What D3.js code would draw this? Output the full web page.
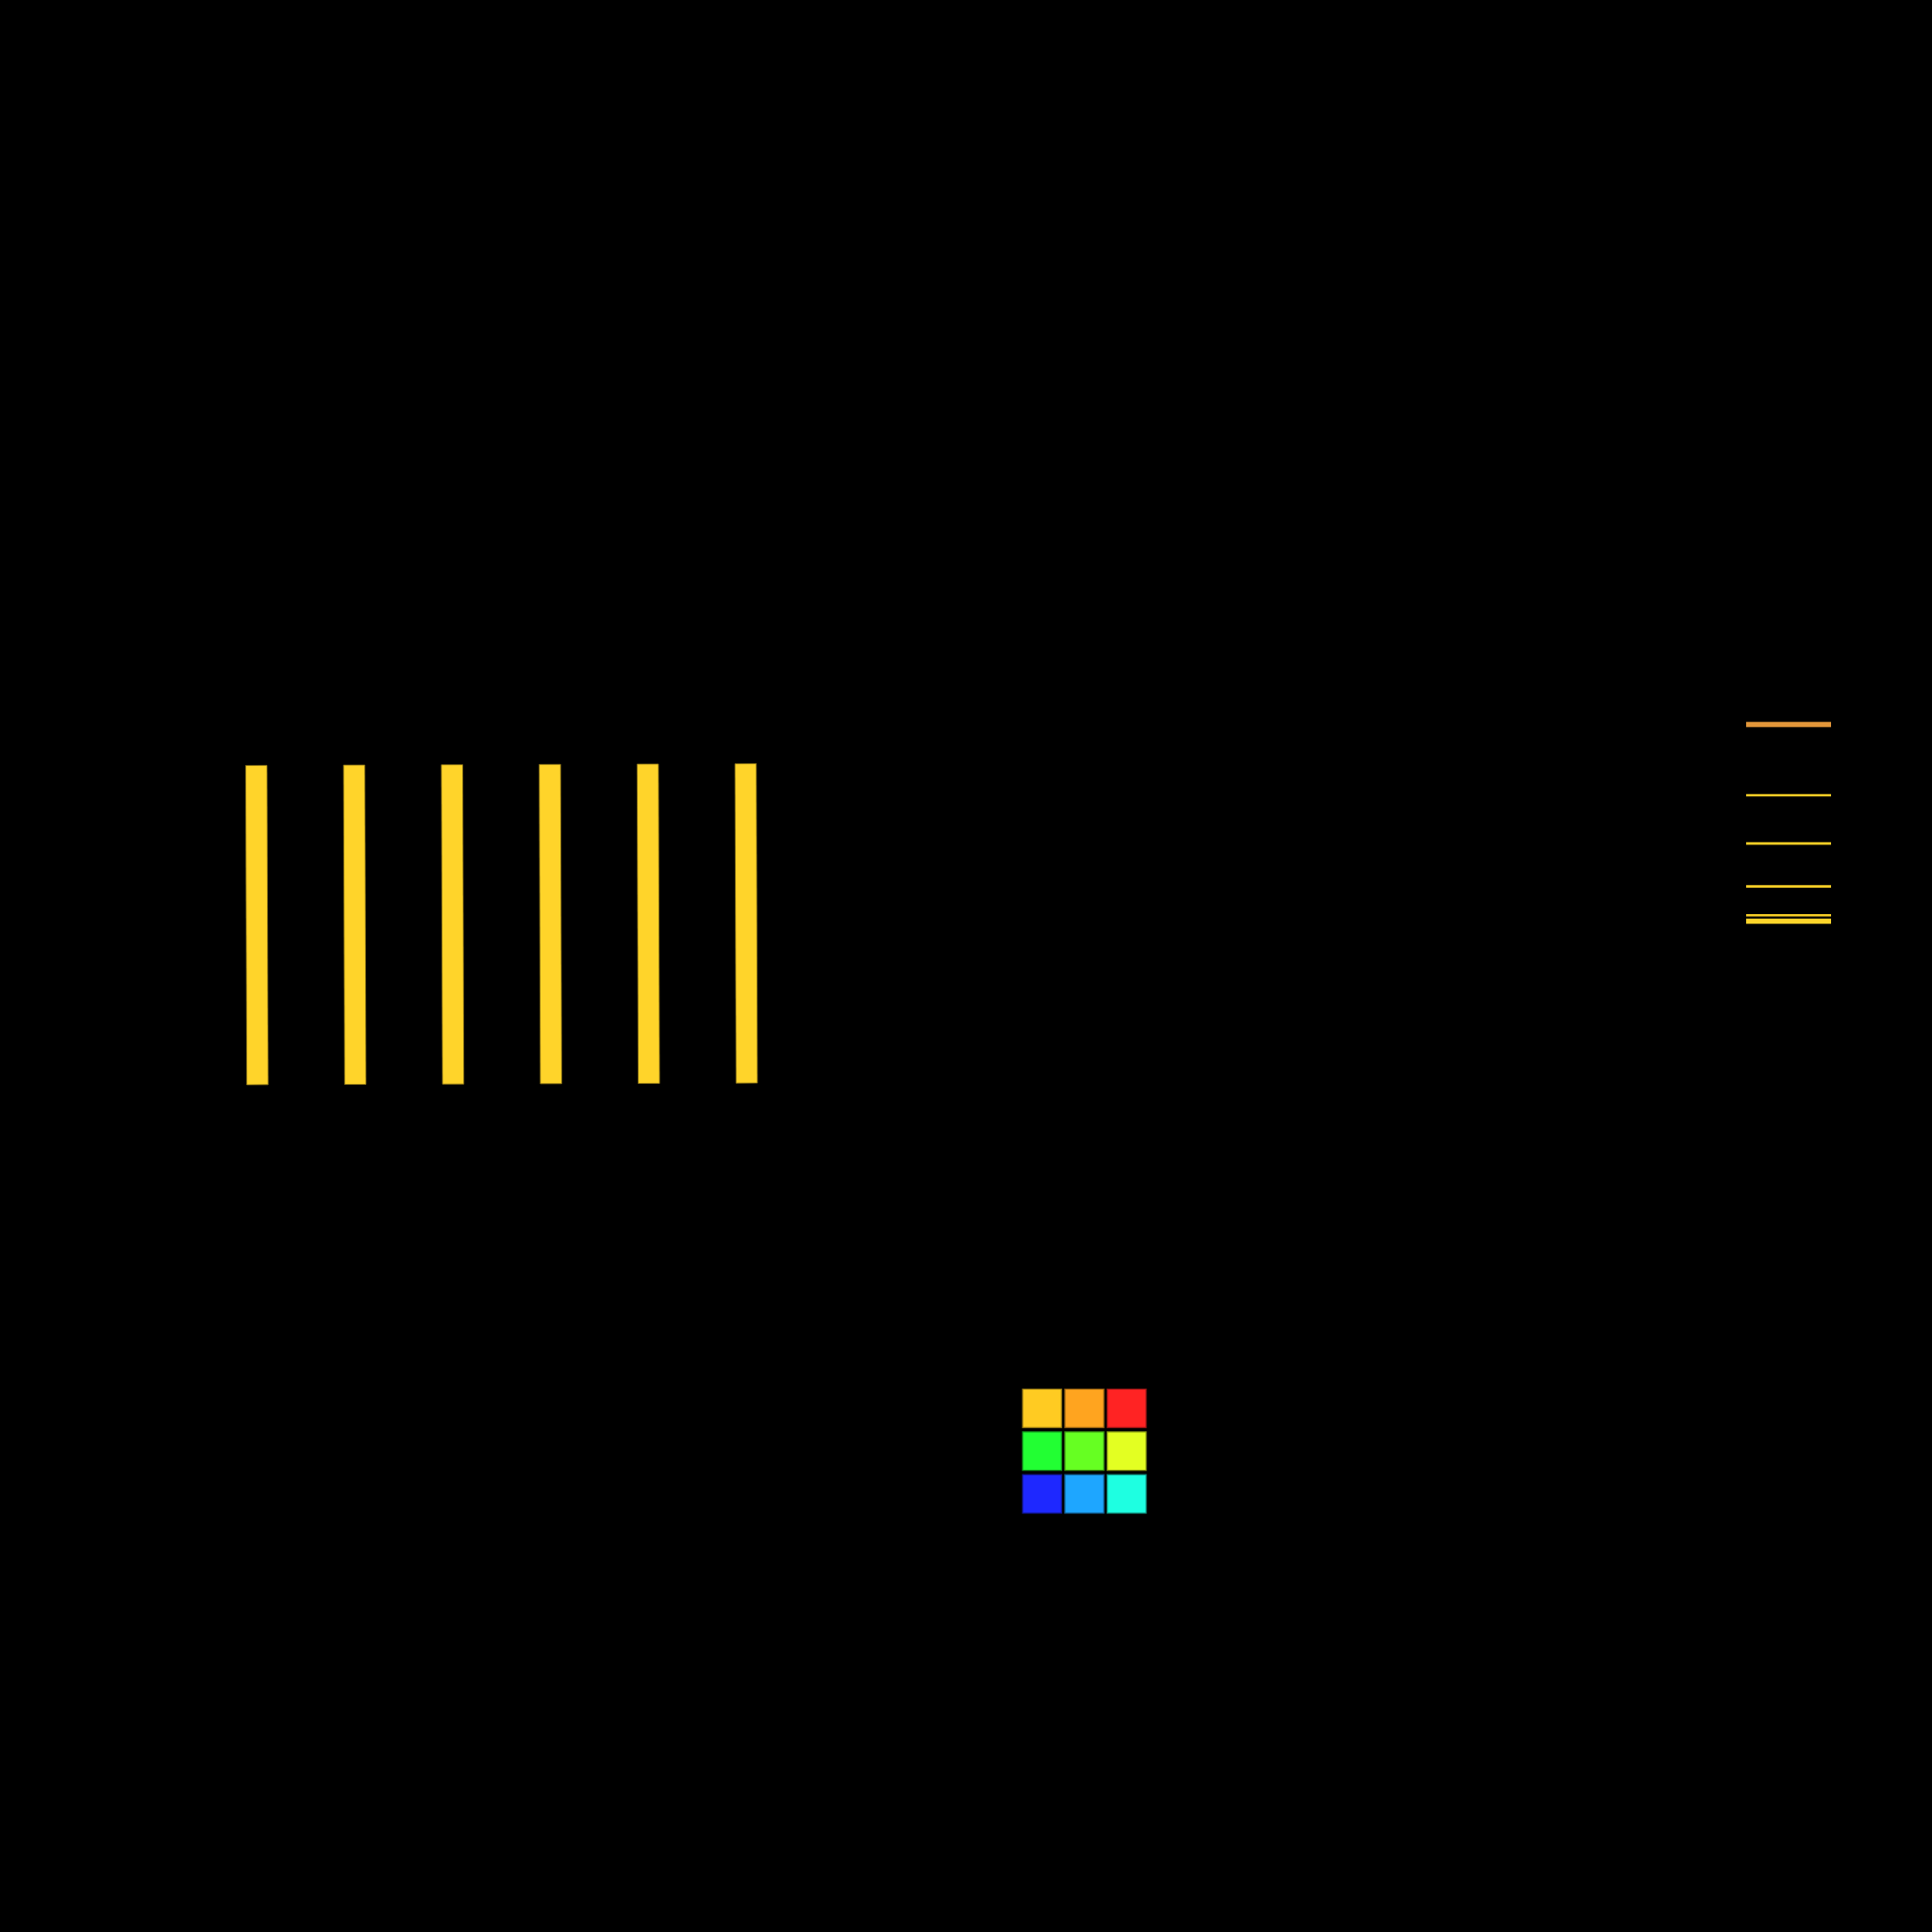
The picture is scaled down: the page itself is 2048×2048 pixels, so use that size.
<!DOCTYPE html>
<html>
<head>
<meta charset="utf-8">
<script src="https://cdn.jsdelivr.net/npm/d3@7"></script>
<style>
  html, body { margin: 0; padding: 0; background: #000; }
  svg { display: block; }
</style>
</head>
<body>
<script>
// ---- data ----
const barCategories = ["1", "2", "3", "4", "5", "6"];
const barValues = [100, 100, 100, 100, 100, 100];

const levelNames = ["top", "l1", "l2", "l3", "l4", "base"];
const levelValues = [100, 64, 39.5, 17.7, 3, 0];
const levelKinds = ["orange", "thin", "thin", "thin", "thin", "thick"];

const gridRows = ["r1", "r2", "r3"];
const gridCols = ["c1", "c2", "c3"];
const gridColors = [
  ["#FFCB22", "#FFA41F", "#FF2323"],
  ["#22FF33", "#66FF22", "#E3FF22"],
  ["#1E28FF", "#1EA6FF", "#1EFFE1"]
];

// ---- chart ----
const W = 2048, H = 2048;
const svg = d3.select("body").append("svg")
  .attr("width", W).attr("height", H)
  .attr("viewBox", `0 0 ${W} ${H}`);

svg.append("rect").attr("width", W).attr("height", H).attr("fill", "#000");

// bars
const x = d3.scalePoint().domain(barCategories).range([272.3, 791]);
const y = d3.scaleLinear().domain([0, 100]).range([1149, 810.5]);
const barW = 22.6;

svg.append("g")
  .attr("transform", "rotate(-0.2, 530, 980)")
  .selectAll("rect")
  .data(barCategories.map((c, i) => ({ c, v: barValues[i] })))
  .join("rect")
  .attr("x", d => x(d.c) - barW / 2)
  .attr("y", d => y(d.v))
  .attr("width", barW)
  .attr("height", d => y(0) - y(d.v))
  .attr("fill", "#FFD42A")
  .attr("stroke", "#8a7216")
  .attr("stroke-width", 0.8);

// level lines on the right
const ly = d3.scaleLinear().domain([0, 100]).range([976.5, 768]);
const lx = d3.scaleLinear().domain([0, 1]).range([1851, 1941]);
const styleOf = {
  orange: { color: "#E2963A", width: 5.5 },
  thin:   { color: "#F7CE26", width: 2.6 },
  thick:  { color: "#FFD52A", width: 5.5 }
};
svg.append("g")
  .selectAll("line")
  .data(levelNames.map((n, i) => ({ n, v: levelValues[i], k: levelKinds[i] })))
  .join("line")
  .attr("x1", lx(0)).attr("x2", lx(1))
  .attr("y1", d => ly(d.v)).attr("y2", d => ly(d.v))
  .attr("stroke", d => styleOf[d.k].color)
  .attr("stroke-width", d => styleOf[d.k].width);

// 3x3 colour grid
const gx = d3.scaleBand().domain(gridCols).range([1084, 1215]).paddingInner(0.08);
const gy = d3.scaleBand().domain(gridRows).range([1472.5, 1604]).paddingInner(0.1);
const cells = [];
gridRows.forEach((r, i) => gridCols.forEach((c, j) => cells.push({ r, c, color: gridColors[i][j] })));
svg.append("g")
  .selectAll("rect")
  .data(cells)
  .join("rect")
  .attr("x", d => gx(d.c))
  .attr("y", d => gy(d.r))
  .attr("width", gx.bandwidth())
  .attr("height", gy.bandwidth())
  .attr("fill", d => d.color)
  .attr("stroke", d => d3.color(d.color).darker(1.6))
  .attr("stroke-width", 1.2);
</script>
</body>
</html>
